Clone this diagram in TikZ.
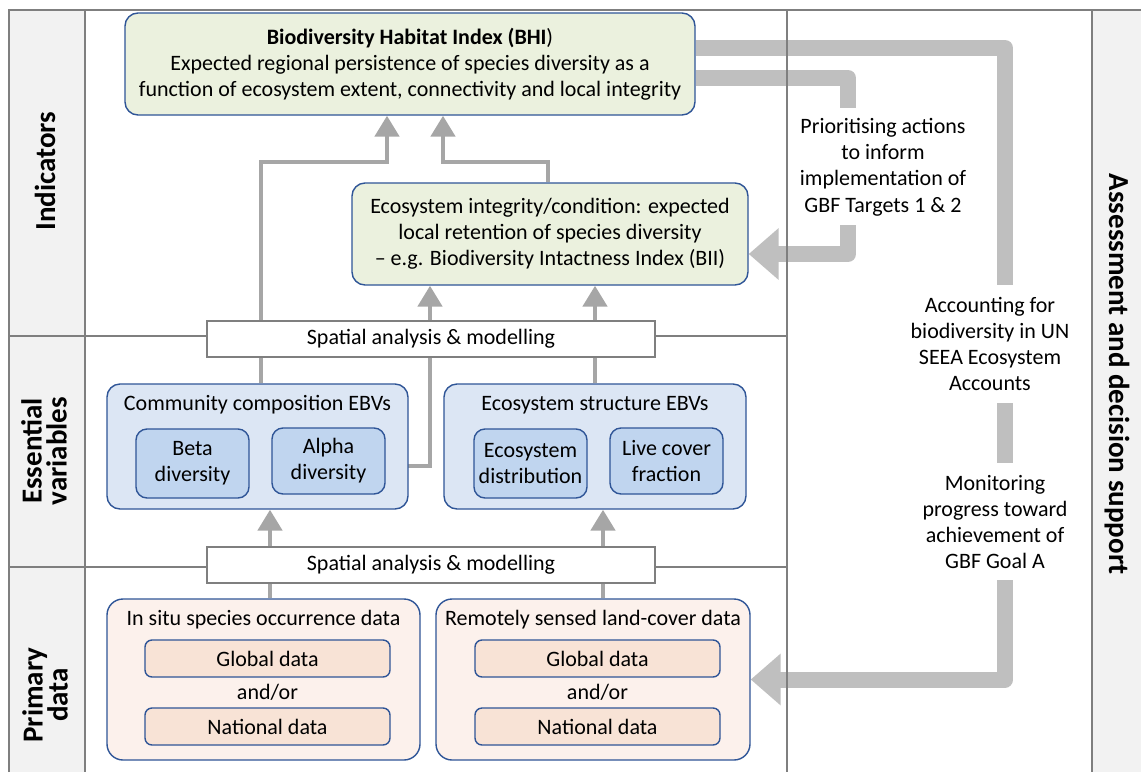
\documentclass[tikz,border=0pt]{standalone}
\usepackage{fontspec}
\setmainfont{Carlito}
\usetikzlibrary{arrows.meta,calc}
\pgfdeclarelayer{bg}
\pgfdeclarelayer{arr}
\pgfsetlayers{bg,arr,main}

\definecolor{frameC}{HTML}{7F7F7F}
\definecolor{colFill}{HTML}{F2F2F2}
\definecolor{boxBorder}{HTML}{2F5597}
\definecolor{greenFill}{HTML}{EBF1DE}
\definecolor{blueOuter}{HTML}{DCE6F4}
\definecolor{blueInner}{HTML}{C0D5EF}
\definecolor{peachOuter}{HTML}{FCF1EC}
\definecolor{peachInner}{HTML}{F8E3D6}
\definecolor{thinArrowC}{HTML}{A6A6A6}
\definecolor{bigArrowC}{HTML}{BFBFBF}

\tikzset{
  x=1pt, y=-1pt,
  body/.style={font=\fontsize{22}{26}\selectfont},
  sidelbl/.style={font=\fontsize{29}{25}\selectfont\bfseries, align=center, inner sep=0pt},
  rbox/.style={draw=boxBorder, line width=1.4pt, rounded corners=13pt, inner sep=0pt, align=center, body},
  greenbox/.style={rbox, fill=greenFill},
  bluegroup/.style={rbox, fill=blueOuter},
  blueitem/.style={rbox, fill=blueInner, rounded corners=11pt},
  peachgroup/.style={rbox, fill=peachOuter, rounded corners=16pt},
  peachitem/.style={rbox, fill=peachInner, rounded corners=7pt},
  spatial/.style={draw=frameC, line width=1.2pt, fill=white, inner sep=0pt, body},
  plain/.style={body, align=center, inner sep=0pt},
  sidetext/.style={font=\fontsize{22}{26.3}\selectfont, align=center, inner sep=0pt},
  frameline/.style={draw=frameC, line width=1.3pt},
  garrow/.style={draw=thinArrowC, line width=4.8pt, -{Triangle[width=24pt,length=21pt]}},
  bigline/.style={draw=bigArrowC, line width=16pt, line join=round},
  bigarrow/.style={bigline, -{Triangle[width=50pt,length=30pt]}},
}

\begin{document}
\begin{tikzpicture}
\useasboundingbox (0,0) rectangle (1141,772);

% column fills
\begin{pgfonlayer}{bg}
  \fill[white] (0,0) rectangle (1141,772);
  \fill[colFill] (9,10) rectangle (85,772);
  \fill[colFill] (1092,10) rectangle (1141,772);
\end{pgfonlayer}

% frame lines
\draw[frameline] (9,772) -- (9,10) -- (1141,10);
\draw[frameline] (85,10) -- (85,772);
\draw[frameline] (787,10) -- (787,772);
\draw[frameline] (1092,10) -- (1092,772);
\draw[frameline] (9,336) -- (787,336);
\draw[frameline] (9,567) -- (787,567);

% side labels
\node[sidelbl, rotate=90] (lInd) at (45,171) {Indicators};
\node[sidelbl, rotate=90] (lEss) at (44,451) {Essential\\variables};
\node[sidelbl, rotate=90] (lPri) at (45,695) {Primary\\data};
\node[sidelbl, rotate=-90] (lAss) at (1117,374) {Assessment and decision support};

% indicator boxes
\node[greenbox, minimum width=570pt, minimum height=102pt] (bhi) at (410,64)
  {\textbf{Biodiversity Habitat Index (BHI}){}\\Expected regional persistence of species diversity as a\\function of ecosystem extent, connectivity and local integrity};
\node[greenbox, minimum width=396pt, minimum height=102pt] (bii) at (550,234)
  {Ecosystem integrity/condition: expected\\local retention of species diversity\\-- e.g. Biodiversity Intactness Index (BII)};

% spatial analysis boxes
\node[spatial, minimum width=448pt, minimum height=36pt] (sp1) at (431,339) {Spatial analysis \& modelling};
\node[spatial, minimum width=448pt, minimum height=36pt] (sp2) at (431,565) {Spatial analysis \& modelling};

% essential variables
\node[bluegroup, minimum width=301pt, minimum height=125pt] (comm) at (257.5,446.5) {};
\node[plain] (commT) at (257.5,405) {Community composition EBVs};
\node[blueitem, minimum width=113pt, minimum height=69pt] (beta) at (192.5,463.5) {Beta\\diversity};
\node[blueitem, minimum width=113pt, minimum height=66pt] (alpha) at (328.5,461) {Alpha\\diversity};

\node[bluegroup, minimum width=302pt, minimum height=125pt] (ecos) at (595,446.5) {};
\node[plain] (ecosT) at (595,405) {Ecosystem structure EBVs};
\node[blueitem, minimum width=113pt, minimum height=69pt] (edist) at (530.5,463.5) {Ecosystem\\distribution};
\node[blueitem, minimum width=113pt, minimum height=66pt] (live) at (666.5,461) {Live cover\\fraction};

% primary data
\node[peachgroup, minimum width=313pt, minimum height=161pt] (insitu) at (263.5,679.5) {};
\node[plain] (insituT) at (263.5,620) {In situ species occurrence data};
\node[peachitem, minimum width=245pt, minimum height=37pt] (ig) at (267.5,658.5) {Global data};
\node[plain] (iand) at (267.5,692) {and/or};
\node[peachitem, minimum width=245pt, minimum height=37pt] (in) at (267.5,726.5) {National data};

\node[peachgroup, minimum width=314pt, minimum height=161pt] (remote) at (593,679.5) {};
\node[plain] (remoteT) at (593,620) {Remotely sensed land-cover data};
\node[peachitem, minimum width=245pt, minimum height=37pt] (rg) at (597.5,658.5) {Global data};
\node[plain] (rand) at (597.5,692) {and/or};
\node[peachitem, minimum width=245pt, minimum height=37pt] (rn) at (597.5,726.5) {National data};

% right-hand texts
\node[sidetext] (prio) at (883,167) {Prioritising actions\\to inform\\implementation of\\GBF Targets 1 \& 2};
\node[sidetext] (acct) at (990,344) {Accounting for\\biodiversity in UN\\SEEA Ecosystem\\Accounts};
\node[sidetext] (mon) at (995,522) {Monitoring\\progress toward\\achievement of\\GBF Goal A};

% connectors
\coordinate (jL) at (261,162);
\coordinate (jR) at (548,162);
\coordinate (xA) at (595,0);
\coordinate (xB) at (270,0);
\coordinate (xC) at (603,0);
\coordinate (a1) at (1005,285);
\coordinate (a2) at (1005,403);
\coordinate (a3) at (1005,463);
\coordinate (a4) at (1005,580);
\coordinate (b1) at (848,108);
\coordinate (b2) at (848,225);

\begin{pgfonlayer}{arr}
  \draw[garrow] (comm.north -| jL) -- (jL) -| ([xshift=-23pt]bhi.south);
  \draw[garrow] (bii.north -| jR) -- (jR) -| ([xshift=33pt]bhi.south);
  \draw[garrow] ([yshift=-5pt]alpha.east) -| ([xshift=-120pt]bii.south);
  \draw[garrow] (ecos.north -| xA) -- (bii.south -| xA);
  \draw[garrow] (insitu.north -| xB) -- (comm.south -| xB);
  \draw[garrow] (remote.north -| xC) -- (ecos.south -| xC);

  \draw[bigline] ([yshift=16pt]bhi.east) -| (a1);
  \draw[bigline] (a2) -- (a3);
  \draw[bigarrow] (a4) |- (remote.east);
  \draw[bigline] ([yshift=-14pt]bhi.east) -| (b1);
  \draw[bigarrow] (b2) |- ([yshift=-20pt]bii.east);
\end{pgfonlayer}
\end{tikzpicture}
\end{document}
